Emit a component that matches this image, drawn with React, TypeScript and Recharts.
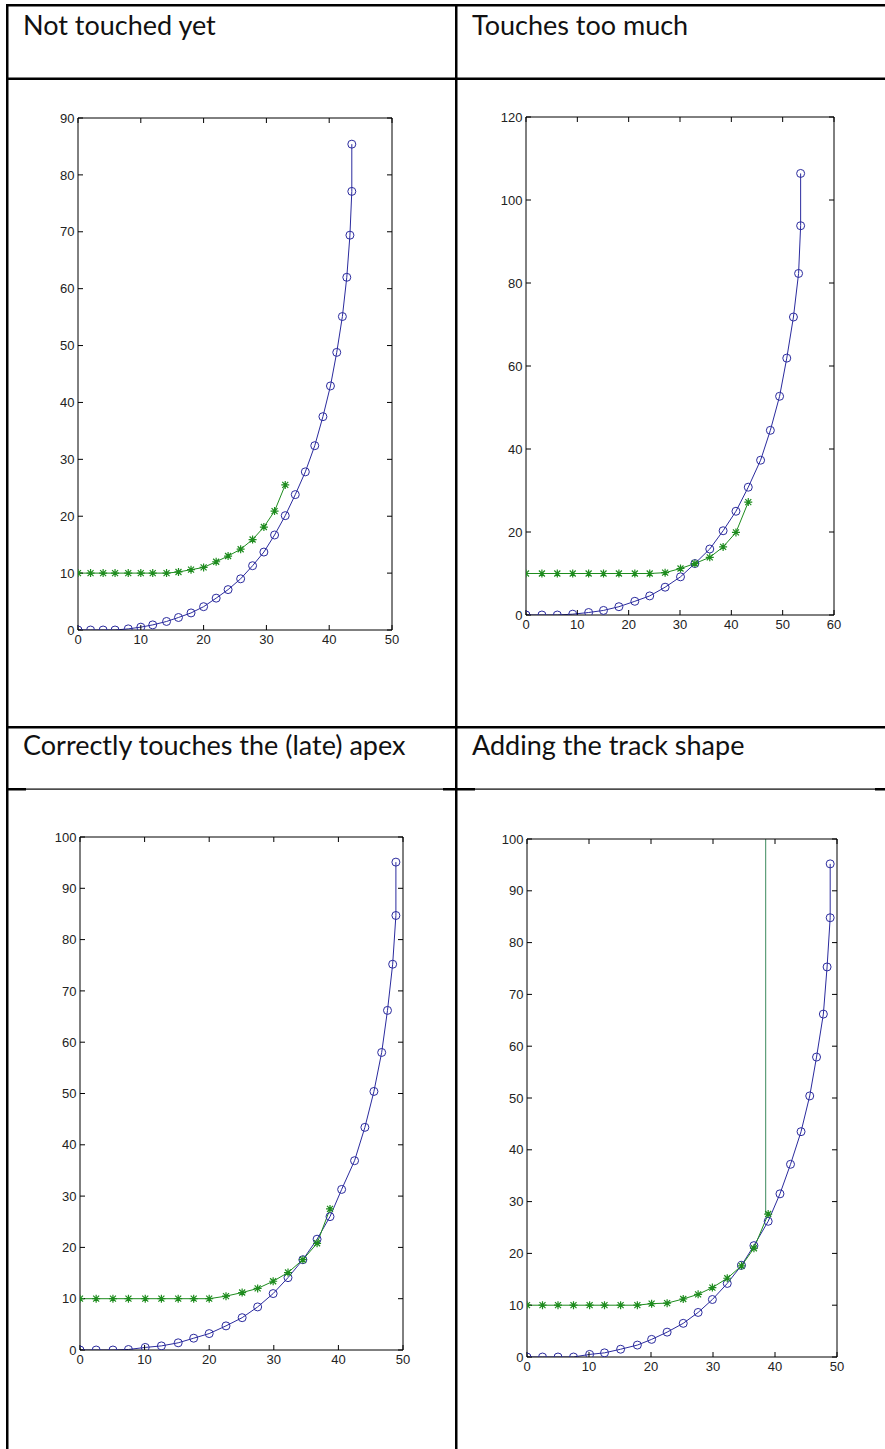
import React from 'react';
import { LineChart, Line, XAxis, YAxis } from 'recharts';

const BLUE = '#2b2b9e';
const GREEN = '#1e8c1e';
const TRACK = '#3d8a5e';

// "Not touched yet"
const p1X = [0, 2.0, 4.0, 5.9, 8.0, 10.0, 11.9, 14.1, 16.0, 18.0, 20.0, 22.0, 23.9, 25.9, 27.8, 29.6, 31.3, 33.0, 34.6, 36.2, 37.7, 39.0, 40.2, 41.2, 42.1, 42.8, 43.3, 43.6, 43.6];
const p1Blue = [0, 0, 0, 0, 0.2, 0.5, 0.9, 1.5, 2.2, 3.0, 4.1, 5.6, 7.1, 9.0, 11.3, 13.7, 16.7, 20.1, 23.8, 27.8, 32.4, 37.5, 42.9, 48.8, 55.1, 62.0, 69.4, 77.1, 85.4];
const p1Green = [10, 10, 10, 10, 10, 10, 10, 10, 10.2, 10.6, 11.0, 12.0, 13.0, 14.2, 15.9, 18.1, 20.9, 25.5];

// "Touches too much"
const p2X = [0, 3.1, 6.1, 9.1, 12.2, 15.1, 18.1, 21.2, 24.1, 27.1, 30.1, 32.9, 35.8, 38.4, 40.9, 43.3, 45.7, 47.6, 49.4, 50.8, 52.1, 53.1, 53.5, 53.5];
const p2Blue = [0, 0, 0, 0.2, 0.6, 1.1, 2.0, 3.3, 4.6, 6.7, 9.2, 12.4, 15.9, 20.3, 25.0, 30.8, 37.3, 44.5, 52.7, 61.9, 71.8, 82.3, 93.8, 106.4];
const p2Green = [10, 10, 10, 10, 10, 10, 10, 10, 10, 10.2, 11.2, 12.4, 13.9, 16.4, 19.9, 27.2];

// "Correctly touches the (late) apex"
const p3X = [0, 2.5, 5.1, 7.5, 10.1, 12.6, 15.2, 17.6, 20.0, 22.6, 25.1, 27.5, 29.9, 32.2, 34.5, 36.7, 38.7, 40.5, 42.5, 44.1, 45.5, 46.7, 47.6, 48.4, 48.9, 48.9];
const p3Blue = [0, 0, 0, 0.1, 0.5, 0.8, 1.4, 2.3, 3.2, 4.7, 6.3, 8.4, 11.0, 14.1, 17.6, 21.6, 26.0, 31.3, 36.9, 43.4, 50.4, 58.0, 66.2, 75.2, 84.7, 95.1];
const p3Green = [10, 10, 10, 10, 10, 10, 10, 10, 10, 10.5, 11.2, 12.0, 13.4, 15.1, 17.6, 20.8, 27.5];

// "Adding the track shape"
const p4X = [0, 2.5, 5.0, 7.5, 10.1, 12.5, 15.1, 17.8, 20.1, 22.6, 25.2, 27.6, 29.9, 32.3, 34.6, 36.6, 38.9, 40.8, 42.5, 44.2, 45.6, 46.7, 47.8, 48.4, 48.9, 48.9];
const p4Blue = [0, 0, 0, 0, 0.5, 0.8, 1.5, 2.3, 3.4, 4.8, 6.5, 8.6, 11.1, 14.2, 17.7, 21.5, 26.2, 31.5, 37.2, 43.5, 50.4, 57.9, 66.2, 75.3, 84.8, 95.2];
const p4Green = [10, 10, 10, 10, 10, 10, 10, 10, 10.3, 10.4, 11.2, 12.1, 13.4, 15.2, 17.6, 21.0, 27.6];
const trackX = [38.5, 38.5];
const trackY = [27.6, 100];

const ticks50 = [0, 10, 20, 30, 40, 50];
const ticks60 = [0, 10, 20, 30, 40, 50, 60];
const ticks90 = [0, 10, 20, 30, 40, 50, 60, 70, 80, 90];
const ticks100 = [0, 10, 20, 30, 40, 50, 60, 70, 80, 90, 100];
const ticks120 = [0, 20, 40, 60, 80, 100, 120];

const titles = ['Not touched yet', 'Touches too much', 'Correctly touches the (late) apex', 'Adding the track shape'];

const toRows = (xs: number[], ys: number[]) => ys.map((y, i) => ({ x: xs[i], y }));

const tickStyle = { fontSize: 13, fill: '#222', fontFamily: 'Liberation Sans, Arial, sans-serif' };
const noLabel = () => '';

const StarDot = (props: any) => {
  const { cx, cy, index } = props;
  if (cx == null || cy == null) return <g key={`s${index}`} />;
  const d = `M${cx - 4},${cy}H${cx + 4}M${cx},${cy - 4}V${cy + 4}M${cx - 3},${cy - 3}L${cx + 3},${cy + 3}M${cx - 3},${cy + 3}L${cx + 3},${cy - 3}`;
  return <path key={`s${index}`} d={d} stroke={GREEN} strokeWidth={1.2} fill="none" />;
};

interface PlotProps {
  left: number;
  top: number;
  right: number;
  bottom: number;
  xTicks: number[];
  yTicks: number[];
  blue: { x: number; y: number }[];
  green: { x: number; y: number }[];
  track?: { x: number; y: number }[];
}

const Plot: React.FC<PlotProps> = ({ left, top, right, bottom, xTicks, yTicks, blue, green, track }) => {
  const padL = 40, padR = 10, padT = 10, padB = 30;
  const width = right - left + padL + padR;
  const height = bottom - top + padT + padB;
  const xDomain = [xTicks[0], xTicks[xTicks.length - 1]];
  const yDomain = [yTicks[0], yTicks[yTicks.length - 1]];
  const axisProps = { stroke: '#000', axisLine: { stroke: '#000' }, tickLine: { stroke: '#000' }, tickSize: -5, fontSize: 13 };

  // blue series uses bottom/left axes, green series top/right axes (same fixed domains)
  return (
    <div style={{ position: 'absolute', left: left - padL, top: top - padT }}>
      <LineChart width={width} height={height} margin={{ top: padT - 1, right: padR - 1, bottom: 0, left: 0 }}>
        <XAxis xAxisId="b" type="number" dataKey="x" domain={xDomain} ticks={xTicks} interval={0}
          height={padB} tickMargin={10} tick={tickStyle} allowDataOverflow {...axisProps} />
        <XAxis xAxisId="t" orientation="top" type="number" dataKey="x" domain={xDomain} ticks={xTicks} interval={0}
          height={1} tick={tickStyle} tickFormatter={noLabel} allowDataOverflow {...axisProps} />
        <YAxis yAxisId="l" type="number" domain={yDomain} ticks={yTicks} interval={0}
          width={padL} tickMargin={8.5} tick={tickStyle} allowDataOverflow {...axisProps} />
        <YAxis yAxisId="r" orientation="right" type="number" domain={yDomain} ticks={yTicks} interval={0}
          width={1} tick={tickStyle} tickFormatter={noLabel} allowDataOverflow {...axisProps} />
        {track && (
          <Line xAxisId="t" yAxisId="r" data={track} dataKey="y" type="linear" stroke={TRACK} strokeWidth={1}
            dot={false} isAnimationActive={false} />
        )}
        <Line xAxisId="b" yAxisId="l" data={blue} dataKey="y" type="linear" stroke={BLUE} strokeWidth={1}
          dot={{ r: 4, stroke: BLUE, strokeWidth: 1, fill: 'none' }} isAnimationActive={false} />
        <Line xAxisId="t" yAxisId="r" data={green} dataKey="y" type="linear" stroke={GREEN} strokeWidth={1}
          dot={StarDot} isAnimationActive={false} />
      </LineChart>
    </div>
  );
};

export default function App() {
  const font = 'Lato, "Open Sans", sans-serif';
  return (
    <div style={{ position: 'absolute', left: 0, top: 0, width: 885, height: 1449, background: '#fff', overflow: 'hidden' }}>
      <svg width={885} height={1449} style={{ position: 'absolute', left: 0, top: 0 }}>
        <rect x={6} y={4} width={879} height={2.5} fill="#000" />
        <rect x={6} y={4} width={2.5} height={1445} fill="#000" />
        <rect x={455} y={4} width={2.5} height={1445} fill="#000" />
        <rect x={6} y={77.5} width={879} height={2.5} fill="#000" />
        <rect x={6} y={726} width={879} height={2.5} fill="#000" />
        <rect x={6} y={788.5} width={879} height={1.2} fill="#000" />
        <rect x={6} y={788} width={20} height={2.5} fill="#000" />
        <rect x={443} y={788} width={32} height={2.5} fill="#000" />
        <rect x={875} y={788} width={10} height={2.5} fill="#000" />
        <text x={23} y={35} fontFamily={font} fontSize={27} fill="#111">{titles[0]}</text>
        <text x={472} y={35} fontFamily={font} fontSize={27} fill="#111">{titles[1]}</text>
        <text x={23} y={755} fontFamily={font} fontSize={27} fill="#111">{titles[2]}</text>
        <text x={472} y={755} fontFamily={font} fontSize={27} fill="#111">{titles[3]}</text>
      </svg>
      <Plot left={78} top={118} right={392} bottom={630} xTicks={ticks50} yTicks={ticks90}
        blue={toRows(p1X, p1Blue)} green={toRows(p1X, p1Green)} />
      <Plot left={526} top={117} right={834} bottom={615} xTicks={ticks60} yTicks={ticks120}
        blue={toRows(p2X, p2Blue)} green={toRows(p2X, p2Green)} />
      <Plot left={80} top={837} right={403} bottom={1350} xTicks={ticks50} yTicks={ticks100}
        blue={toRows(p3X, p3Blue)} green={toRows(p3X, p3Green)} />
      <Plot left={527} top={839} right={837} bottom={1357} xTicks={ticks50} yTicks={ticks100}
        blue={toRows(p4X, p4Blue)} green={toRows(p4X, p4Green)} track={toRows(trackX, trackY)} />
    </div>
  );
}
